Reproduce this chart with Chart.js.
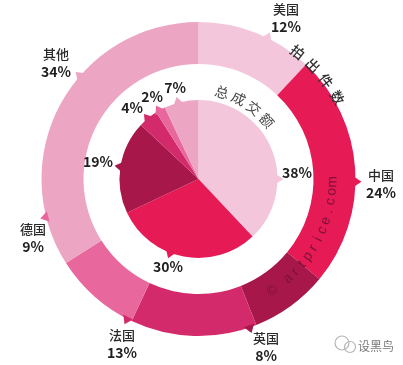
<!DOCTYPE html>
<html><head><meta charset="utf-8">
<style>html,body{margin:0;padding:0;background:#fff}canvas{display:block}</style>
<script src="https://cdn.jsdelivr.net/npm/chart.js@4"></script></head>
<body><canvas id="c" width="403" height="365"></canvas>
<script>
const outerCategories=['美国','中国','英国','法国','德国','其他'];
const outerValues=[12,24,8,13,9,34];
const innerValues=[38,30,19,4,2,7];
const colors=['#f3c6dc','#e61a55','#a8174a','#d32a6b','#e8689d','#eca5c3'];
const FONT='"Liberation Sans Narrow","Noto Sans CJK SC",sans-serif';
const CJK='"Noto Sans CJK SC",sans-serif';
const outerLabels=[[286,9],[381,175],[266,338],[122,335],[33,229],[56,54]];
const innerLabels=[[297,173],[168,267],[98,162],[132,108],[152,97],[175,88]];
const outerTips=[26,91,161,207,256,311];
const innerTips=[90,201,279,320,330,345];
function rad(d){return (d-90)*Math.PI/180}
const deco={id:'deco',afterDatasetsDraw(chart){
  const c=chart.ctx,m=chart.getDatasetMeta(0).data[0],cx=m.x,cy=m.y,R=m.outerRadius;
  const ri=chart.getDatasetMeta(2).data[0].outerRadius;
  function tip(a,r,col){const t=rad(a),w=0.035*157/r;
    c.fillStyle=col;c.beginPath();
    c.moveTo(cx+(r-2)*Math.cos(t-w),cy+(r-2)*Math.sin(t-w));
    c.lineTo(cx+(r+6)*Math.cos(t),cy+(r+6)*Math.sin(t));
    c.lineTo(cx+(r-2)*Math.cos(t+w),cy+(r-2)*Math.sin(t+w));c.closePath();c.fill();}
  outerTips.forEach((a,i)=>tip(a,R,colors[i]));
  innerTips.forEach((a,i)=>tip(a,ri,colors[i]));
  c.textAlign='center';c.textBaseline='middle';
  outerCategories.forEach((n,i)=>{
    const [x,y]=outerLabels[i];
    c.fillStyle='#2a2a2a';c.font='500 13px '+CJK;c.fillText(n,x,y);
    c.fillStyle='#1f1f1f';c.font='bold 14px '+FONT;c.fillText(outerValues[i]+'%',x,y+18);
  });
  innerValues.forEach((v,i)=>{
    const [x,y]=innerLabels[i];
    c.fillStyle='#1f1f1f';c.font='bold 14px '+FONT;c.fillText(v+'%',x,y);
  });
  function arcText(chars,startA,stepA,r,font,col){
    c.font=font;c.fillStyle=col;
    [...chars].forEach((ch,i)=>{const a=startA+i*stepA,t=rad(a);
      c.save();c.translate(cx+r*Math.cos(t),cy+r*Math.sin(t));
      c.rotate(stepA>0?a*Math.PI/180:(a+180)*Math.PI/180);
      c.fillText(ch,0,0);c.restore();});
  }
  arcText('拍出件数',38,7.2,161,'500 14px '+CJK,'#333');
  arcText('总成交额',15,11.5,90,'400 14px '+CJK,'#444');
  arcText('© artprice.com',146.5,-4.25,134,'14px "Liberation Sans",sans-serif','#7b1238');
  // watermark
  c.strokeStyle='#b5b5b5';c.lineWidth=1.2;
  c.beginPath();c.arc(342,343,7,0,Math.PI*2);c.stroke();
  c.beginPath();c.arc(350,347,5.5,0,Math.PI*2);c.stroke();
  c.fillStyle='#777';c.font='12px '+CJK;c.fillText('设黑鸟',376,346);
}};
new Chart(document.getElementById('c'),{
  type:'doughnut',
  data:{labels:outerCategories,datasets:[
    {data:outerValues,backgroundColor:colors,borderWidth:0,weight:42},
    {data:[1],backgroundColor:'rgba(0,0,0,0)',borderWidth:0,weight:36},
    {data:innerValues,backgroundColor:colors,borderWidth:0,weight:79}
  ]},
  options:{responsive:false,animation:false,cutout:0,
    layout:{padding:{left:41.5,right:47.5,top:22,bottom:29}},
    plugins:{legend:{display:false},tooltip:{enabled:false}}},
  plugins:[deco]
});
</script></body></html>
